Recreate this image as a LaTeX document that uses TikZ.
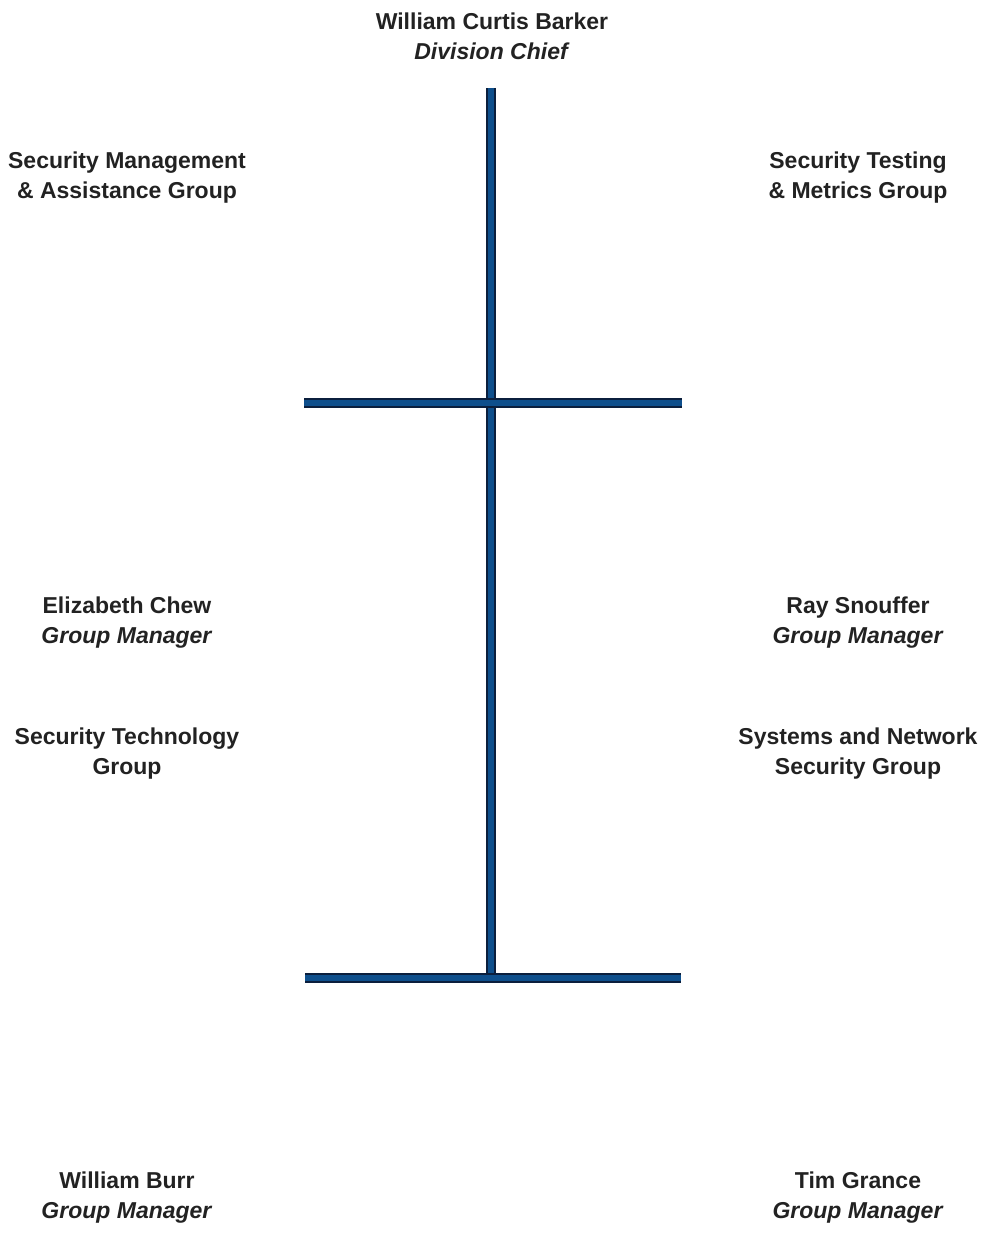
\documentclass[tikz,border=0pt]{standalone}
\usepackage{fontspec}
\setmainfont{Liberation Sans}
\definecolor{barDark}{HTML}{0B1F3D}
\definecolor{barBlue}{HTML}{0E4F8C}
\definecolor{txt}{HTML}{222222}
\tikzset{
  lbl/.style={align=center, text=txt, inner sep=0pt,
    font=\bfseries\fontsize{23}{30}\selectfont},
  bar/.style={draw=barDark, line width=1.6pt, double=barBlue, double distance=6.8pt}
}
\begin{document}
\begin{tikzpicture}[x=1pt,y=-1pt]
\useasboundingbox (0,0) rectangle (989,1236);
% labels
\node[lbl] (chief) at (492,36.5) {William Curtis Barker\\\textit{Division Chief}};
\node[lbl] (smag) at (127,178) {Security Management\\\& Assistance Group};
\node[lbl] (stmg) at (858,178) {Security Testing\\\& Metrics Group};
\node[lbl] (chew) at (127,623) {Elizabeth Chew\\\textit{Group Manager}};
\node[lbl] (snouffer) at (858,623) {Ray Snouffer\\\textit{Group Manager}};
\node[lbl] (stg) at (127,754) {Security Technology\\Group};
\node[lbl] (snsg) at (858,754) {Systems and Network\\Security Group};
\node[lbl] (burr) at (127,1198) {William Burr\\\textit{Group Manager}};
\node[lbl] (grance) at (858,1198) {Tim Grance\\\textit{Group Manager}};
% bar junctions
\coordinate (top) at (491,88);
\coordinate (cross) at (491,403);
\coordinate (l1) at (304,403);
\coordinate (r1) at (682,403);
\coordinate (bot) at (491,978);
\coordinate (l2) at (305,978);
\coordinate (r2) at (681,978);
\draw[bar] (top) -- (bot);
\draw[bar] (l1) -- (r1);
\draw[bar] (l2) -- (r2);
\end{tikzpicture}
\end{document}
